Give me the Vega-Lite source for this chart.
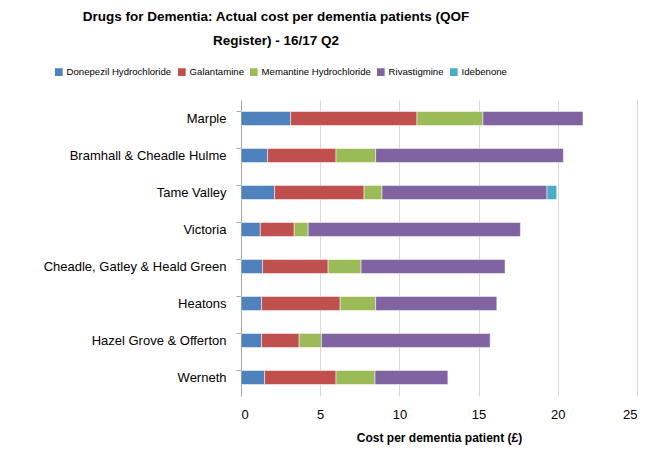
{
  "$schema": "https://vega.github.io/schema/vega-lite/v6.json",
  "autosize": "none",
  "width": 396,
  "height": 296,
  "padding": {"left": 241, "top": 100, "right": 14, "bottom": 66},
  "background": "white",
  "title": {
    "text": ["Drugs for Dementia: Actual cost per dementia patients (QOF", "Register) -  16/17 Q2"],
    "font": "Liberation Sans",
    "fontSize": 13.5,
    "fontWeight": "bold",
    "color": "#000000",
    "anchor": "middle",
    "dx": -163,
    "offset": 20,
    "lineHeight": 24
  },
  "data": {
    "values": [
      {"practice": "Marple", "drug": "Donepezil Hydrochloride", "o": 1, "cost": 3.13},
      {"practice": "Marple", "drug": "Galantamine", "o": 2, "cost": 7.98},
      {"practice": "Marple", "drug": "Memantine Hydrochloride", "o": 3, "cost": 4.16},
      {"practice": "Marple", "drug": "Rivastigmine", "o": 4, "cost": 6.32},
      {"practice": "Bramhall & Cheadle Hulme", "drug": "Donepezil Hydrochloride", "o": 1, "cost": 1.68},
      {"practice": "Bramhall & Cheadle Hulme", "drug": "Galantamine", "o": 2, "cost": 4.32},
      {"practice": "Bramhall & Cheadle Hulme", "drug": "Memantine Hydrochloride", "o": 3, "cost": 2.5},
      {"practice": "Bramhall & Cheadle Hulme", "drug": "Rivastigmine", "o": 4, "cost": 11.85},
      {"practice": "Tame Valley", "drug": "Donepezil Hydrochloride", "o": 1, "cost": 2.12},
      {"practice": "Tame Valley", "drug": "Galantamine", "o": 2, "cost": 5.65},
      {"practice": "Tame Valley", "drug": "Memantine Hydrochloride", "o": 3, "cost": 1.13},
      {"practice": "Tame Valley", "drug": "Rivastigmine", "o": 4, "cost": 10.42},
      {"practice": "Tame Valley", "drug": "Idebenone", "o": 5, "cost": 0.61},
      {"practice": "Victoria", "drug": "Donepezil Hydrochloride", "o": 1, "cost": 1.22},
      {"practice": "Victoria", "drug": "Galantamine", "o": 2, "cost": 2.14},
      {"practice": "Victoria", "drug": "Memantine Hydrochloride", "o": 3, "cost": 0.88},
      {"practice": "Victoria", "drug": "Rivastigmine", "o": 4, "cost": 13.4},
      {"practice": "Cheadle, Gatley & Heald Green", "drug": "Donepezil Hydrochloride", "o": 1, "cost": 1.36},
      {"practice": "Cheadle, Gatley & Heald Green", "drug": "Galantamine", "o": 2, "cost": 4.14},
      {"practice": "Cheadle, Gatley & Heald Green", "drug": "Memantine Hydrochloride", "o": 3, "cost": 2.08},
      {"practice": "Cheadle, Gatley & Heald Green", "drug": "Rivastigmine", "o": 4, "cost": 9.09},
      {"practice": "Heatons", "drug": "Donepezil Hydrochloride", "o": 1, "cost": 1.3},
      {"practice": "Heatons", "drug": "Galantamine", "o": 2, "cost": 4.96},
      {"practice": "Heatons", "drug": "Memantine Hydrochloride", "o": 3, "cost": 2.24},
      {"practice": "Heatons", "drug": "Rivastigmine", "o": 4, "cost": 7.65},
      {"practice": "Hazel Grove & Offerton", "drug": "Donepezil Hydrochloride", "o": 1, "cost": 1.3},
      {"practice": "Hazel Grove & Offerton", "drug": "Galantamine", "o": 2, "cost": 2.37},
      {"practice": "Hazel Grove & Offerton", "drug": "Memantine Hydrochloride", "o": 3, "cost": 1.41},
      {"practice": "Hazel Grove & Offerton", "drug": "Rivastigmine", "o": 4, "cost": 10.65},
      {"practice": "Werneth", "drug": "Donepezil Hydrochloride", "o": 1, "cost": 1.49},
      {"practice": "Werneth", "drug": "Galantamine", "o": 2, "cost": 4.51},
      {"practice": "Werneth", "drug": "Memantine Hydrochloride", "o": 3, "cost": 2.46},
      {"practice": "Werneth", "drug": "Rivastigmine", "o": 4, "cost": 4.6}
    ]
  },
  "mark": {"type": "bar", "stroke": "white", "strokeWidth": 0.5},
  "encoding": {
    "y": {
      "field": "practice",
      "type": "nominal",
      "sort": ["Marple", "Bramhall & Cheadle Hulme", "Tame Valley", "Victoria", "Cheadle, Gatley & Heald Green", "Heatons", "Hazel Grove & Offerton", "Werneth"],
      "scale": {"paddingInner": 0.62, "paddingOuter": 0.31},
      "axis": {
        "title": null,
        "labelFont": "Liberation Sans",
        "labelFontSize": 13,
        "labelLimit": 300,
        "labelColor": "#000000",
        "labelPadding": 10,
        "domainColor": "#A6A6A6",
        "tickColor": "#A6A6A6",
        "tickSize": 5,
        "bandPosition": 0,
        "grid": false
      }
    },
    "x": {
      "field": "cost",
      "type": "quantitative",
      "stack": "zero",
      "scale": {"domain": [0, 25], "nice": false},
      "axis": {
        "title": "Cost per dementia patient (£)",
        "titleFont": "Liberation Sans",
        "titleFontSize": 12,
        "titleFontWeight": "bold",
        "titleColor": "#000000",
        "titlePadding": 11,
        "values": [0, 5, 10, 15, 20, 25],
        "labelFont": "Liberation Sans",
        "labelFontSize": 13,
        "labelColor": "#000000",
        "labelPadding": 12,
        "domain": false,
        "ticks": false,
        "grid": true,
        "gridColor": "#D9D9D9",
        "gridWidth": 1
      }
    },
    "color": {
      "field": "drug",
      "type": "nominal",
      "scale": {
        "domain": ["Donepezil Hydrochloride", "Galantamine", "Memantine Hydrochloride", "Rivastigmine", "Idebenone"],
        "range": ["#4F81BD", "#C0504D", "#9BBB59", "#8064A2", "#4BACC6"]
      },
      "legend": {
        "title": null,
        "orient": "none",
        "direction": "horizontal",
        "legendX": -187,
        "legendY": -33,
        "symbolType": "square",
        "symbolSize": 60,
        "symbolStrokeWidth": 0,
        "labelFont": "Liberation Sans",
        "labelFontSize": 9.6,
        "labelColor": "#000000",
        "columnPadding": 5,
        "labelOffset": 3
      }
    },
    "order": {"field": "o", "type": "quantitative"}
  },
  "config": {"view": {"stroke": null}}
}
